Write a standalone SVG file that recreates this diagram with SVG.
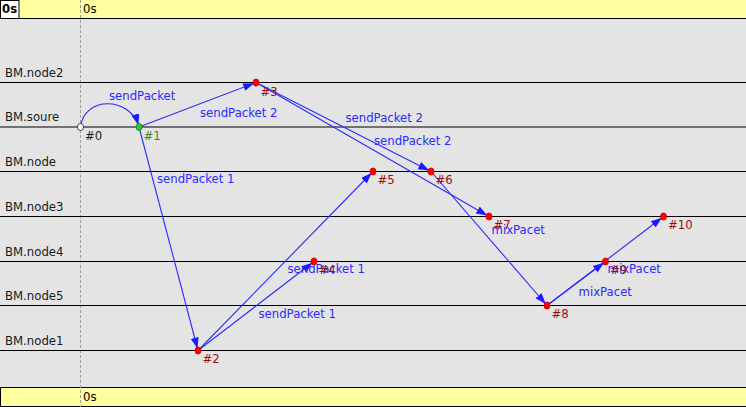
<svg xmlns="http://www.w3.org/2000/svg" width="746" height="407" viewBox="0 0 746 407">
<style>
text{font-family:"DejaVu Sans","Liberation Sans",sans-serif;font-size:11.7px}
.lane{stroke:#000;stroke-width:1}
.lbl{fill:#1a1a1a}
.edge{stroke:#2a2aff;stroke-width:1.1;fill:none;marker-end:url(#ah)}
.el{fill:#2a2aff}
.pt{fill:#f00;stroke:#c00;stroke-width:0.8}
.pl{fill:#9a1010}
</style>
<defs>
<marker id="ah" markerUnits="userSpaceOnUse" markerWidth="14" markerHeight="10" refX="13" refY="4" orient="auto">
<path d="M0,0 L11,4 L0,8 z" fill="#1a1aff"/>
</marker>
</defs>
<rect x="0" y="0" width="746" height="407" fill="#e4e4e4"/>
<g id="timebar-top">
<rect x="0" y="0" width="746" height="18.5" fill="#ffffa0"/>
<rect x="0.5" y="0.5" width="18.5" height="18" fill="#fff" stroke="#000"/>
<line x1="0" y1="18.5" x2="746" y2="18.5" stroke="#000"/>
<text x="2" y="13" font-weight="bold">0s</text>
<text x="83" y="13">0s</text>
</g>
<g id="timebar-bottom">
<rect x="0.5" y="387.5" width="746" height="19" fill="#ffffa0" stroke="#000"/>
<text x="83" y="401">0s</text>
</g>
<line x1="80.5" y1="0" x2="80.5" y2="407" stroke="#a0a0a0" stroke-dasharray="3,2"/>
<g id="lanes">
<line class="lane" x1="0" y1="82.5" x2="746" y2="82.5"/>
<line class="lane" x1="0" y1="127" x2="746" y2="127"/>
<line class="lane" x1="0" y1="171.5" x2="746" y2="171.5"/>
<line class="lane" x1="0" y1="216.5" x2="746" y2="216.5"/>
<line class="lane" x1="0" y1="261.5" x2="746" y2="261.5"/>
<line class="lane" x1="0" y1="305.5" x2="746" y2="305.5"/>
<line class="lane" x1="0" y1="350.5" x2="746" y2="350.5"/>
<text class="lbl" x="5" y="77">BM.node2</text>
<text class="lbl" x="5" y="121">BM.soure</text>
<text class="lbl" x="5" y="166">BM.node</text>
<text class="lbl" x="5" y="211">BM.node3</text>
<text class="lbl" x="5" y="256">BM.node4</text>
<text class="lbl" x="5" y="300">BM.node5</text>
<text class="lbl" x="5" y="345">BM.node1</text>
</g>
<g id="connectors">
<path class="edge" d="M80.5,127 C84,96 130,96 139,127"/>
<line class="edge" x1="139" y1="127" x2="256" y2="82.5"/>
<line class="edge" x1="139" y1="127" x2="198" y2="350.5"/>
<line class="edge" x1="256" y1="82.5" x2="431" y2="171.5"/>
<line class="edge" x1="256" y1="82.5" x2="489" y2="216.5"/>
<line class="edge" x1="198" y1="350.5" x2="314" y2="261.5"/>
<line class="edge" x1="198" y1="350.5" x2="373" y2="171.5"/>
<line class="edge" x1="431" y1="171.5" x2="547" y2="305.5"/>
<line class="edge" x1="547" y1="305.5" x2="605.5" y2="261.5"/>
<line class="edge" x1="547" y1="305.5" x2="663.5" y2="216.5"/>
<text class="el" x="109" y="100">sendPacket</text>
<text class="el" x="200" y="117">sendPacket 2</text>
<text class="el" x="157" y="183">sendPacket 1</text>
<text class="el" x="345.5" y="122">sendPacket 2</text>
<text class="el" x="374" y="144.5">sendPacket 2</text>
<text class="el" x="287.5" y="273">sendPacket 1</text>
<text class="el" x="258.5" y="317.5">sendPacket 1</text>
<text class="el" x="491.5" y="233.5">mixPacet</text>
<text class="el" x="607.5" y="273">mixPacet</text>
<text class="el" x="578.5" y="295.5">mixPacet</text>
</g>
<g id="n0"><ellipse cx="80.5" cy="127" rx="3" ry="3.6" fill="#fff" stroke="#333" stroke-width="0.9"/><text x="85" y="139.5" fill="#1a1a1a">#0</text></g>
<g id="n1"><ellipse cx="139" cy="127" rx="3" ry="3.6" fill="#1fd01f" stroke="#109010" stroke-width="0.8"/><text x="143.5" y="139.5" fill="#3a8a10">#1</text></g>
<g id="n2"><ellipse class="pt" cx="198" cy="350.5" rx="3" ry="3.6"/><text class="pl" x="202.5" y="363">#2</text></g>
<g id="n3"><ellipse class="pt" cx="256" cy="82.5" rx="3" ry="3.6"/><text class="pl" x="260.5" y="95.5">#3</text></g>
<g id="n4"><ellipse class="pt" cx="314" cy="261.5" rx="3" ry="3.6"/><text class="pl" x="318.5" y="274">#4</text></g>
<g id="n5"><ellipse class="pt" cx="373" cy="171.5" rx="3" ry="3.6"/><text class="pl" x="377.5" y="184">#5</text></g>
<g id="n6"><ellipse class="pt" cx="431" cy="171.5" rx="3" ry="3.6"/><text class="pl" x="435.5" y="184">#6</text></g>
<g id="n7"><ellipse class="pt" cx="489" cy="216.5" rx="3" ry="3.6"/><text class="pl" x="493.5" y="229">#7</text></g>
<g id="n8"><ellipse class="pt" cx="547" cy="305.5" rx="3" ry="3.6"/><text class="pl" x="551.5" y="318">#8</text></g>
<g id="n9"><ellipse class="pt" cx="605.5" cy="261.5" rx="3" ry="3.6"/><text class="pl" x="610" y="274">#9</text></g>
<g id="n10"><ellipse class="pt" cx="663.5" cy="216.5" rx="3" ry="3.6"/><text class="pl" x="668" y="229">#10</text></g>
</svg>
